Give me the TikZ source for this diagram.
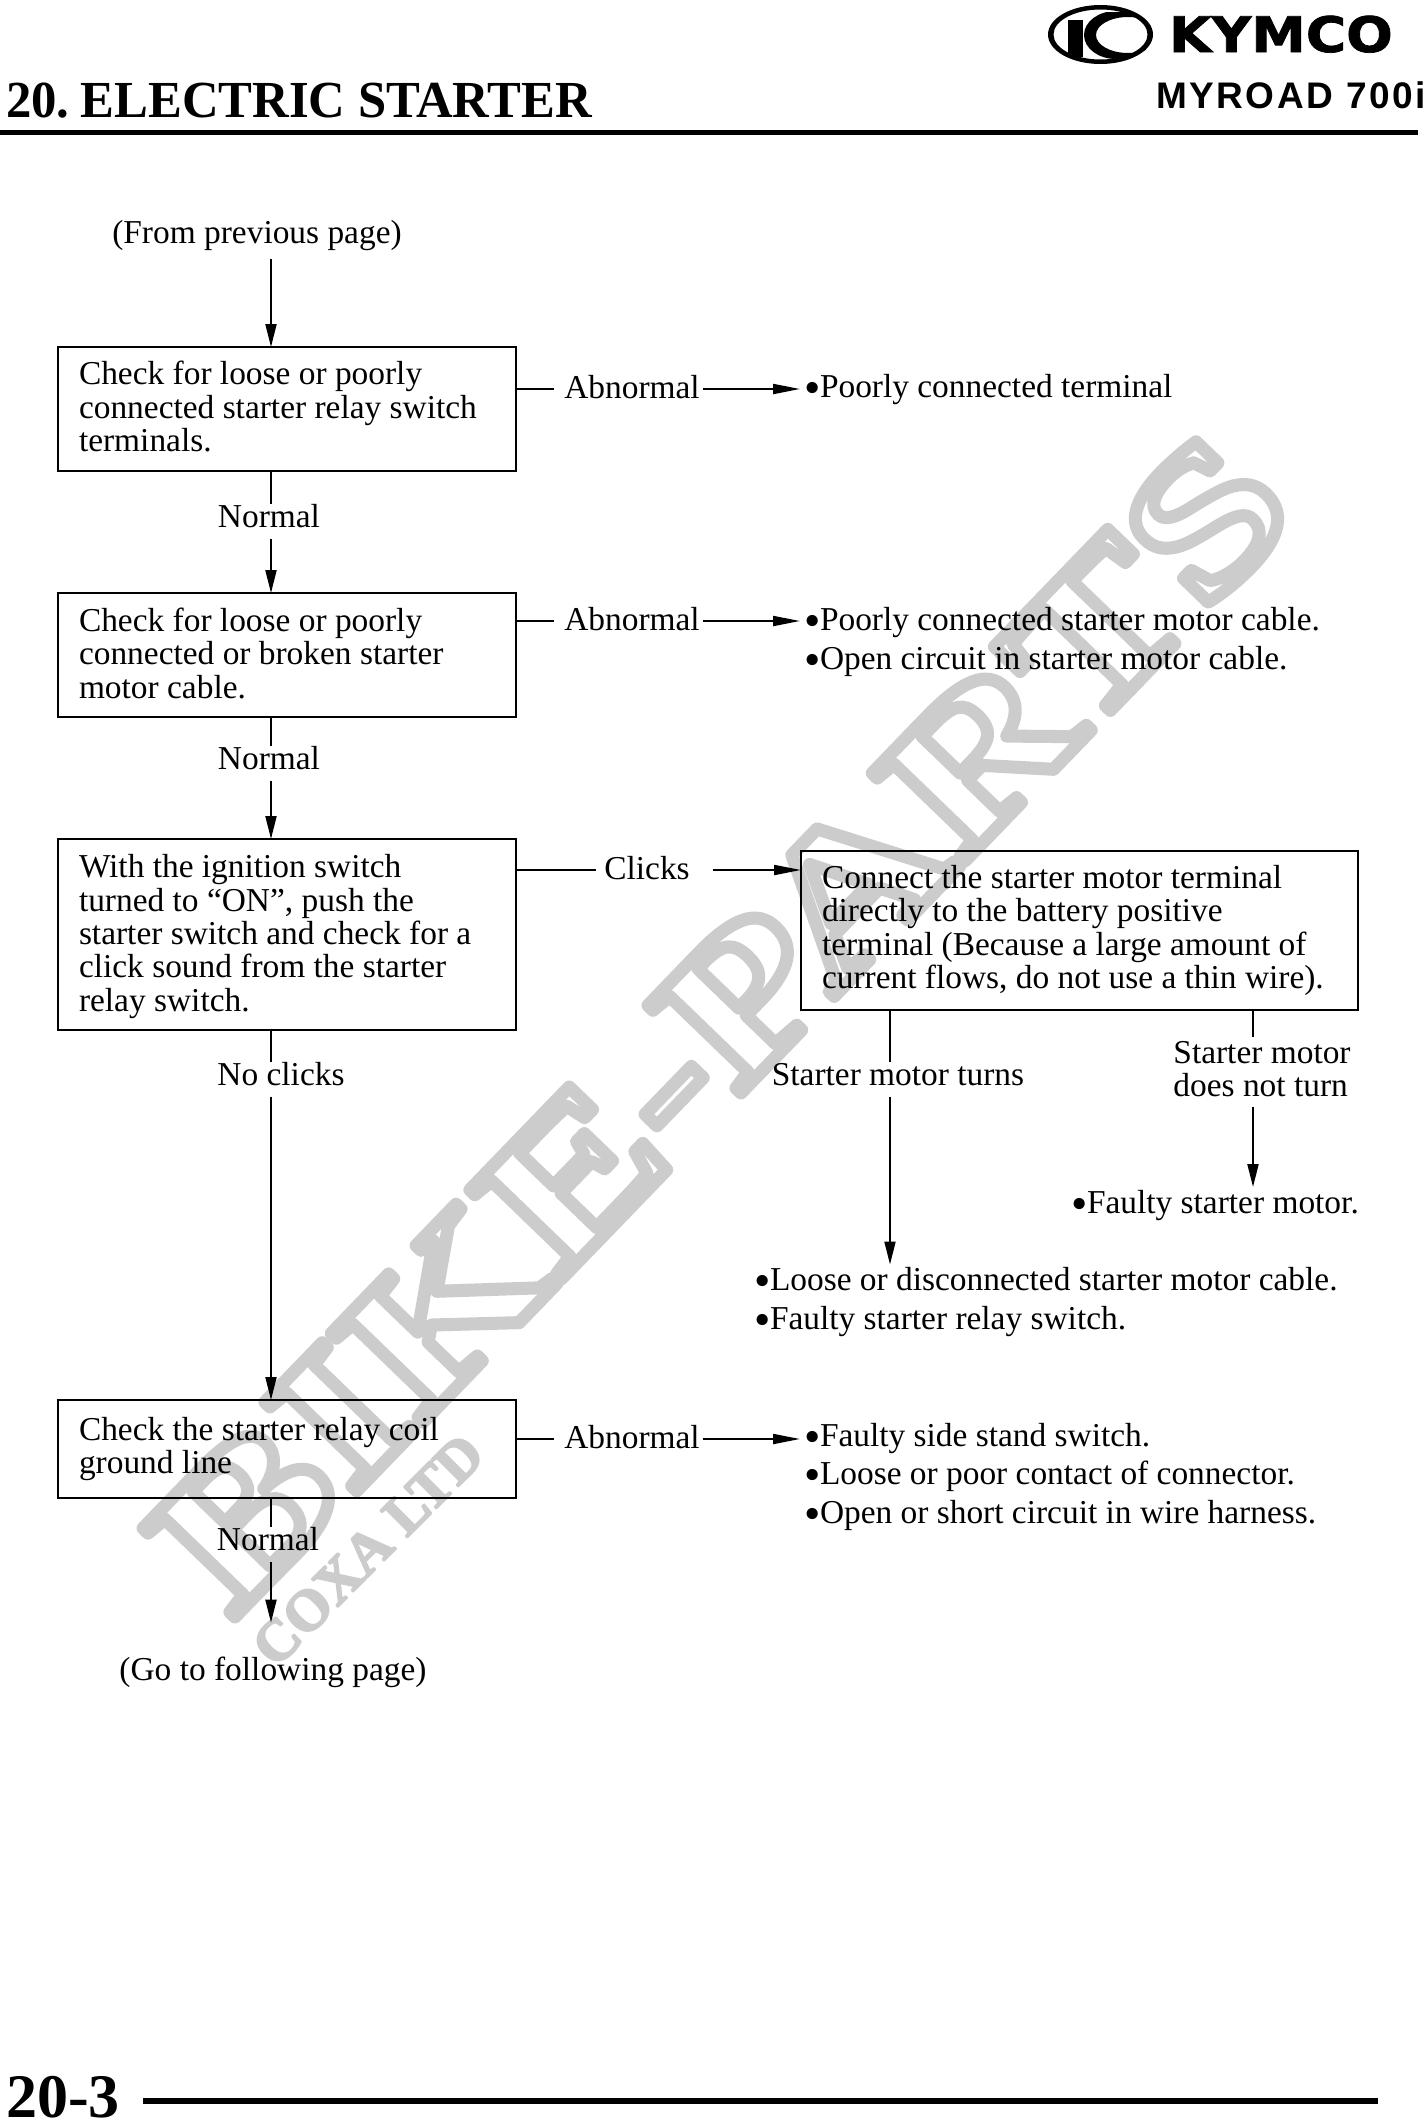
\documentclass[tikz,border=0pt]{standalone}
\usepackage{fontspec}
\setmainfont{Liberation Serif}
\newfontfamily\logofont[FakeBold=1.5]{DejaVu Sans}
\newfontfamily\modelfont[LetterSpace=7]{Liberation Sans}
\newfontfamily\markfont[FakeStretch=1.315]{Liberation Serif}
\usetikzlibrary{arrows.meta}
\definecolor{wmgray}{gray}{0.8}
\newcommand{\bul}{\makebox[14pt][l]{\kern-2pt\raisebox{-6pt}{\scalebox{1.4}{\textbullet}}}}
\begin{document}
\begin{tikzpicture}[x=1pt,y=-1pt,
        every node/.style={inner sep=0pt,outer sep=0pt,font=\fontsize{33.4}{33.4}\selectfont},
        stepbox/.style={draw,line width=2pt,anchor=north west,align=flush left,inner xsep=21pt},
        vlabel/.style={anchor=base,text height=23pt,text depth=11.5pt},
        hlabel/.style={text height=18pt,text depth=0pt},
        cause/.style={anchor=north west,align=flush left,inner xsep=6pt,inner ysep=3pt,font=\fontsize{33.4}{39}\selectfont},
        wire/.style={line width=2pt},
        flow/.style={line width=2pt,-{Triangle[length=23pt,width=11pt]}},
        sideflow/.style={line width=2pt,-{Triangle[length=27pt,width=10pt]}}]
    \useasboundingbox (0,0) rectangle (1424,2118);
    \fill[white] (0,0) rectangle (1424,2118);
    % watermark
    \node[rotate=46,anchor=base west,text=wmgray] (wmk) at (232,1620) {\markfont\fontsize{195}{195}\bfseries\selectfont\color{wmgray}\special{pdf:code 1 j 1 J 13 w 1 Tr}BIKE-PARTS\special{pdf:code 0 Tr 1 w}};
    \node[rotate=45,text=wmgray] (coxa) at (368,1550) {\fontsize{58}{58}\bfseries\selectfont\color{wmgray}\special{pdf:code 1 j 2 w 2 Tr}COXA LTD\special{pdf:code 0 Tr 1 w}};
    % header and footer
    \node[anchor=base west] (title) at (6,117) {\fontsize{52}{52}\bfseries\selectfont\scalebox{.975}[1]{20.\kern-1.5pt\ ELECTRIC STARTER}};
    \node[anchor=base west] (brand) at (1169,52) {\logofont\fontsize{49}{49}\bfseries\selectfont\scalebox{1.12}[1]{KYMCO}};
    \node[anchor=base west] (model) at (1156,108) {\modelfont\fontsize{37}{37}\bfseries\selectfont MYROAD 700i};
    \node[anchor=base west] (page) at (6,2117) {\fontsize{62}{62}\bfseries\selectfont 20-3};
    \fill (0,130) rectangle (1418,135);
    \fill (143,2098) rectangle (1378,2104);
    \fill[even odd rule] (1100.5,34.5) ellipse [x radius=52.5,y radius=29.5] (1100.5,34.5) ellipse [x radius=47,y radius=25];
    \fill (1068,20) rectangle (1083,57);
    \begin{scope}
        \clip (1083,12) rectangle (1146,58);
        \fill[even odd rule] (1116,35) ellipse [x radius=32,y radius=24] (1128,35) ellipse [x radius=32,y radius=18];
    \end{scope}
    % flow chart
    \coordinate (trunk) at (271,0);
    \coordinate (tapa) at (890,0);
    \coordinate (tapb) at (1253,0);
    \node[inner ysep=8pt] (prev) at (257,236) {(From previous page)};
    \node[stepbox,text width=416pt,minimum height=124pt] (chk1) at (58,347) {Check for loose or poorly\\connected starter relay switch\\terminals.\rule[-5.4pt]{0pt}{0pt}};
    \node[stepbox,text width=416pt,minimum height=124pt] (chk2) at (58,593) {Check for loose or poorly\\connected or broken starter\\motor cable.\rule[-4pt]{0pt}{0pt}};
    \node[stepbox,text width=416pt,minimum height=191pt] (chk3) at (58,839) {\rule{0pt}{27pt}With the ignition switch\\turned to “ON”, push the\\starter switch and check for a\\click sound from the starter\\relay switch.};
    \node[stepbox,text width=416pt,minimum height=98pt] (chk4) at (58,1400) {Check the starter relay coil\\ground line\rule[-2.7pt]{0pt}{0pt}};
    \node[stepbox,text width=515pt,minimum height=159pt] (conn) at (801,851) {Connect the starter motor terminal\\directly to the battery positive\\terminal (Because a large amount of\\current flows, do not use a thin wire).};
    \node[vlabel] (nrm1) at (269,527) {Normal};
    \node[vlabel] (nrm2) at (269,769) {Normal};
    \node[vlabel] (noclk) at (281,1085) {No clicks};
    \node[vlabel] (nrm3) at (268,1550) {Normal};
    \node[vlabel] (turns) at (898,1085) {Starter motor turns};
    \node[anchor=north,align=flush left,inner ysep=4pt,text depth=6pt] (noturn) at (1262,1037) {Starter motor\\does not turn};
    \node[hlabel] (abn1) at (632,389) {Abnormal};
    \node[hlabel] (abn2) at (632,621) {Abnormal};
    \node[hlabel] (abn3) at (632,1439) {Abnormal};
    \node[hlabel] (clk) at (647,870) {Clicks};
    \node[cause] (cs1) at (800,371.5) {\bul Poorly connected terminal};
    \node[cause] (cs2) at (800,604.5) {\bul Poorly connected starter motor cable.\\\bul Open circuit in starter motor cable.};
    \node[cause,font=\fontsize{33.4}{38.5}\selectfont] (cs3) at (800,1420) {\bul Faulty side stand switch.\\\bul Loose or poor contact of connector.\\\bul Open or short circuit in wire harness.};
    \node[cause] (cs4) at (1067,1187) {\bul Faulty starter motor.};
    \node[cause] (cs5) at (750,1264.5) {\bul Loose or disconnected starter motor cable.\\\bul Faulty starter relay switch.};
    \node[inner ysep=34pt] (next) at (273,1672) {(Go to following page)};
    % connectors
    \draw[flow] (trunk |- prev.south) -- (trunk |- chk1.north);
    \draw[wire] (trunk |- chk1.south) -- (trunk |- nrm1.north);
    \draw[flow] (trunk |- nrm1.south) -- (trunk |- chk2.north);
    \draw[wire] (trunk |- chk2.south) -- (trunk |- nrm2.north);
    \draw[flow] (trunk |- nrm2.south) -- (trunk |- chk3.north);
    \draw[wire] (trunk |- chk3.south) -- (trunk |- noclk.north);
    \draw[flow] (trunk |- noclk.south) -- (trunk |- chk4.north);
    \draw[wire] (trunk |- chk4.south) -- (trunk |- nrm3.north);
    \draw[flow] (trunk |- nrm3.south) -- (trunk |- next.north);
    \draw[wire,shorten >=10pt] (chk1.east |- abn1) -- (abn1.west);
    \draw[sideflow,shorten <=3pt] (abn1.east) -- (cs1.west |- abn1);
    \draw[wire,shorten >=10pt] (chk2.east |- abn2) -- (abn2.west);
    \draw[sideflow,shorten <=3pt] (abn2.east) -- (cs2.west |- abn2);
    \draw[wire,shorten >=10pt] (chk4.east |- abn3) -- (abn3.west);
    \draw[sideflow,shorten <=3pt] (abn3.east) -- (cs3.west |- abn3);
    \draw[wire,shorten >=8pt] (chk3.east |- clk) -- (clk.west);
    \draw[sideflow,shorten <=23pt] (clk.east) -- (conn.west |- clk);
    \draw[wire] (tapa |- conn.south) -- (tapa |- turns.north);
    \draw[flow] (tapa |- turns.south) -- (tapa |- cs5.north);
    \draw[wire] (tapb |- conn.south) -- (tapb |- noturn.north);
    \draw[flow] (tapb |- noturn.south) -- (tapb |- cs4.north);
\end{tikzpicture}
\end{document}
